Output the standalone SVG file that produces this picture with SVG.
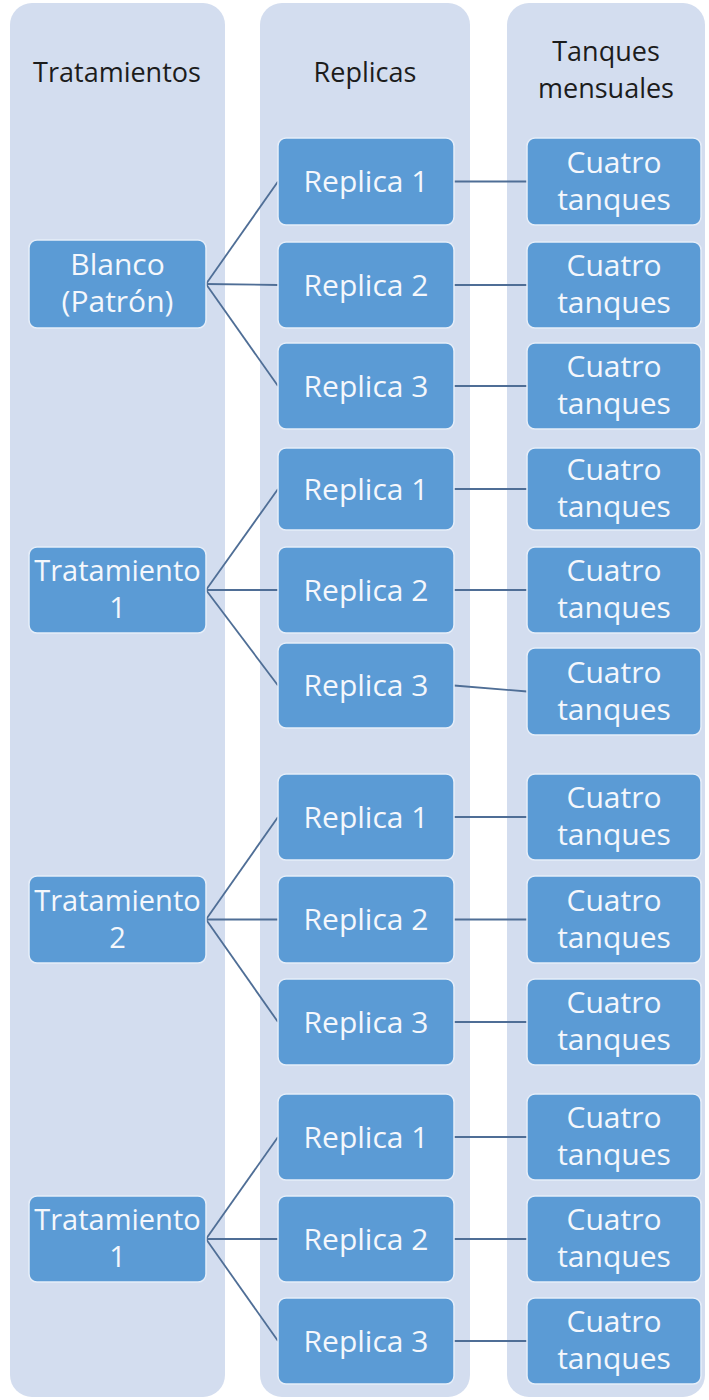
<svg xmlns="http://www.w3.org/2000/svg" width="709" height="1400" viewBox="0 0 709 1400">
<style>
.col{fill:#d3ddef}
.n{fill:#5b9bd5;stroke:#e6eef9;stroke-width:1.5}
.t{font-family:"Open Sans","Liberation Sans",sans-serif;font-size:30px;fill:#f4f7fc;text-anchor:middle}
.tl{font-size:29px}
.h{font-family:"Open Sans","Liberation Sans",sans-serif;font-size:27px;fill:#1c1c1c;text-anchor:middle}
.e{stroke:#4f6e96;stroke-width:1.8;fill:none}
</style>
<rect width="709" height="1400" fill="#ffffff"/>
<g id="columns">
<rect class="col" x="10" y="3" width="215" height="1394" rx="22"/>
<rect class="col" x="260" y="3" width="210" height="1394" rx="22"/>
<rect class="col" x="507" y="3" width="198" height="1394" rx="22"/>
<text class="h" x="117" y="82">Tratamientos</text>
<text class="h" x="365" y="82">Replicas</text>
<text class="h" x="606" y="61">Tanques</text>
<text class="h" x="606" y="98">mensuales</text>
</g>
<g id="connectors">
<line class="e" x1="206" y1="284" x2="278" y2="181.5"/>
<line class="e" x1="206" y1="284" x2="278" y2="285"/>
<line class="e" x1="206" y1="284" x2="278" y2="386"/>
<line class="e" x1="454" y1="181.5" x2="527" y2="181.5"/>
<line class="e" x1="454" y1="285" x2="527" y2="285"/>
<line class="e" x1="454" y1="386" x2="527" y2="386"/>
<line class="e" x1="206" y1="590" x2="278" y2="489"/>
<line class="e" x1="206" y1="590" x2="278" y2="590"/>
<line class="e" x1="206" y1="590" x2="278" y2="685.5"/>
<line class="e" x1="454" y1="489" x2="527" y2="489"/>
<line class="e" x1="454" y1="590" x2="527" y2="590"/>
<line class="e" x1="454" y1="685.5" x2="527" y2="691.5"/>
<line class="e" x1="206" y1="919.5" x2="278" y2="817"/>
<line class="e" x1="206" y1="919.5" x2="278" y2="919.5"/>
<line class="e" x1="206" y1="919.5" x2="278" y2="1022"/>
<line class="e" x1="454" y1="817" x2="527" y2="817"/>
<line class="e" x1="454" y1="919.5" x2="527" y2="919.5"/>
<line class="e" x1="454" y1="1022" x2="527" y2="1022"/>
<line class="e" x1="206" y1="1239" x2="278" y2="1137"/>
<line class="e" x1="206" y1="1239" x2="278" y2="1239"/>
<line class="e" x1="206" y1="1239" x2="278" y2="1341"/>
<line class="e" x1="454" y1="1137" x2="527" y2="1137"/>
<line class="e" x1="454" y1="1239" x2="527" y2="1239"/>
<line class="e" x1="454" y1="1341" x2="527" y2="1341"/>
</g>
<g id="blanco"><rect class="n" x="29" y="240" width="177" height="88" rx="8"/><text class="t" x="117.5" y="275">Blanco</text><text class="t" x="117.5" y="312">(Patrón)</text></g>
<g id="trat1a"><rect class="n" x="29" y="547" width="177" height="86" rx="8"/><text class="t tl" x="117.5" y="581">Tratamiento</text><text class="t tl" x="117.5" y="618">1</text></g>
<g id="trat2"><rect class="n" x="29" y="876" width="177" height="87" rx="8"/><text class="t tl" x="117.5" y="910.5">Tratamiento</text><text class="t tl" x="117.5" y="947.5">2</text></g>
<g id="trat1b"><rect class="n" x="29" y="1196" width="177" height="86" rx="8"/><text class="t tl" x="117.5" y="1230">Tratamiento</text><text class="t tl" x="117.5" y="1267">1</text></g>

<g id="g1r1"><rect class="n" x="278" y="138" width="176" height="87" rx="8"/><text class="t" x="366" y="192">Replica 1</text></g>
<g id="g1r2"><rect class="n" x="278" y="242" width="176" height="86" rx="8"/><text class="t" x="366" y="295.5">Replica 2</text></g>
<g id="g1r3"><rect class="n" x="278" y="343" width="176" height="86" rx="8"/><text class="t" x="366" y="396.5">Replica 3</text></g>
<g id="g2r1"><rect class="n" x="278" y="448" width="176" height="82" rx="8"/><text class="t" x="366" y="499.5">Replica 1</text></g>
<g id="g2r2"><rect class="n" x="278" y="547" width="176" height="86" rx="8"/><text class="t" x="366" y="600.5">Replica 2</text></g>
<g id="g2r3"><rect class="n" x="278" y="643" width="176" height="85" rx="8"/><text class="t" x="366" y="696">Replica 3</text></g>
<g id="g3r1"><rect class="n" x="278" y="774" width="176" height="86" rx="8"/><text class="t" x="366" y="827.5">Replica 1</text></g>
<g id="g3r2"><rect class="n" x="278" y="876" width="176" height="87" rx="8"/><text class="t" x="366" y="930">Replica 2</text></g>
<g id="g3r3"><rect class="n" x="278" y="979" width="176" height="86" rx="8"/><text class="t" x="366" y="1032.5">Replica 3</text></g>
<g id="g4r1"><rect class="n" x="278" y="1094" width="176" height="86" rx="8"/><text class="t" x="366" y="1147.5">Replica 1</text></g>
<g id="g4r2"><rect class="n" x="278" y="1196" width="176" height="86" rx="8"/><text class="t" x="366" y="1249.5">Replica 2</text></g>
<g id="g4r3"><rect class="n" x="278" y="1298" width="176" height="86" rx="8"/><text class="t" x="366" y="1351.5">Replica 3</text></g>

<g id="g1t1"><rect class="n" x="527" y="138" width="174" height="87" rx="8"/><text class="t" x="614" y="172.5">Cuatro</text><text class="t" x="614" y="209.5">tanques</text></g>
<g id="g1t2"><rect class="n" x="527" y="242" width="174" height="86" rx="8"/><text class="t" x="614" y="276">Cuatro</text><text class="t" x="614" y="313">tanques</text></g>
<g id="g1t3"><rect class="n" x="527" y="343" width="174" height="86" rx="8"/><text class="t" x="614" y="377">Cuatro</text><text class="t" x="614" y="414">tanques</text></g>
<g id="g2t1"><rect class="n" x="527" y="448" width="174" height="82" rx="8"/><text class="t" x="614" y="480">Cuatro</text><text class="t" x="614" y="517">tanques</text></g>
<g id="g2t2"><rect class="n" x="527" y="547" width="174" height="86" rx="8"/><text class="t" x="614" y="581">Cuatro</text><text class="t" x="614" y="618">tanques</text></g>
<g id="g2t3"><rect class="n" x="527" y="648" width="174" height="87" rx="8"/><text class="t" x="614" y="682.5">Cuatro</text><text class="t" x="614" y="719.5">tanques</text></g>
<g id="g3t1"><rect class="n" x="527" y="774" width="174" height="86" rx="8"/><text class="t" x="614" y="808">Cuatro</text><text class="t" x="614" y="845">tanques</text></g>
<g id="g3t2"><rect class="n" x="527" y="876" width="174" height="87" rx="8"/><text class="t" x="614" y="910.5">Cuatro</text><text class="t" x="614" y="947.5">tanques</text></g>
<g id="g3t3"><rect class="n" x="527" y="979" width="174" height="86" rx="8"/><text class="t" x="614" y="1013">Cuatro</text><text class="t" x="614" y="1050">tanques</text></g>
<g id="g4t1"><rect class="n" x="527" y="1094" width="174" height="86" rx="8"/><text class="t" x="614" y="1128">Cuatro</text><text class="t" x="614" y="1165">tanques</text></g>
<g id="g4t2"><rect class="n" x="527" y="1196" width="174" height="86" rx="8"/><text class="t" x="614" y="1230">Cuatro</text><text class="t" x="614" y="1267">tanques</text></g>
<g id="g4t3"><rect class="n" x="527" y="1298" width="174" height="86" rx="8"/><text class="t" x="614" y="1332">Cuatro</text><text class="t" x="614" y="1369">tanques</text></g>
</svg>
